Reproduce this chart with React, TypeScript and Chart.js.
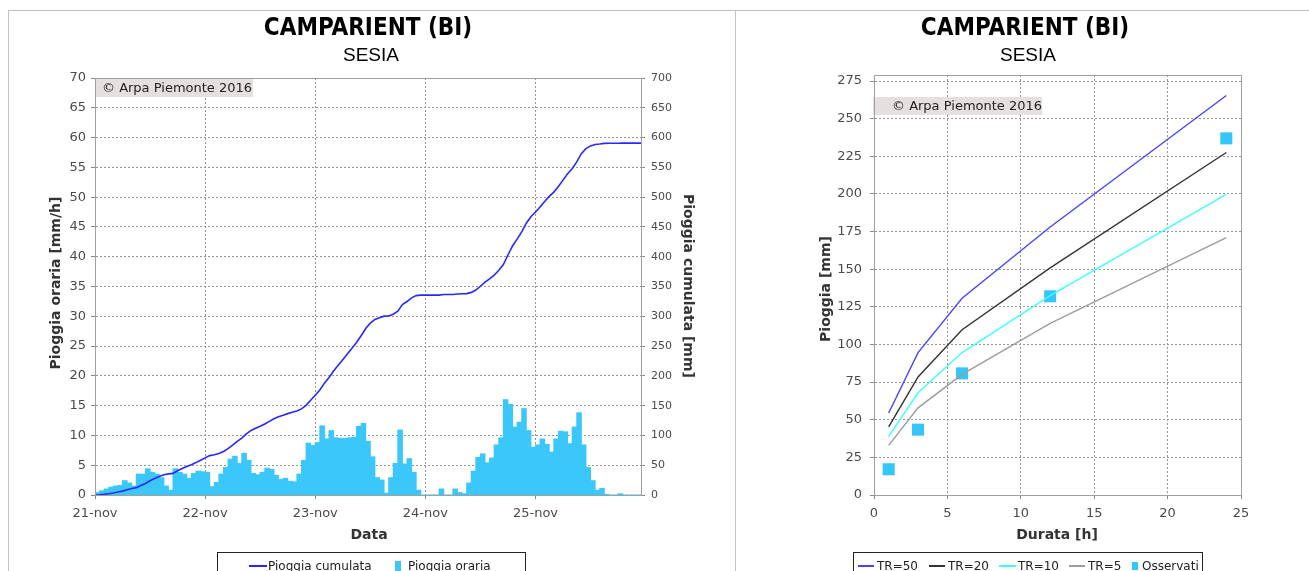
import React, { useEffect, useRef } from "react";
import { Chart, registerables } from "chart.js";

Chart.register(...registerables);

// ---------------- DATA ----------------
const dayLabels = ["21-nov", "22-nov", "23-nov", "24-nov", "25-nov"];
const dayTickHours = [0, 24, 48, 72, 96];

// hourly rain [mm/h], one value per hour, 00h..23h of each day
const rain21 = [0.4, 0.7, 1.0, 1.3, 1.5, 1.6, 2.4, 2.0, 1.5, 3.5, 3.5, 4.4, 3.8, 3.5, 2.9, 1.5, 0.8, 4.4, 3.8, 3.5, 2.8, 3.6, 4.0, 3.9];
const rain22 = [3.8, 1.4, 2.1, 3.5, 4.6, 6.0, 6.5, 5.3, 7.0, 5.8, 3.6, 3.4, 3.8, 4.5, 4.3, 3.3, 2.6, 2.8, 2.3, 2.2, 3.5, 5.8, 8.7, 8.3];
const rain23 = [8.8, 11.6, 9.4, 10.8, 9.6, 9.5, 9.5, 9.6, 9.7, 11.5, 12.0, 9.0, 6.4, 2.9, 2.5, 0.3, 2.9, 5.3, 10.9, 5.2, 6.1, 3.8, 0.8, 0];
const rain24 = [0, 0, 0, 1.0, 0, 0, 1.0, 0.4, 0.2, 2.0, 4.0, 6.3, 6.9, 5.4, 6.2, 8.4, 9.6, 16.0, 15.2, 11.4, 12.2, 14.5, 10.8, 8.0];
const rain25 = [8.4, 9.4, 8.5, 7.2, 9.4, 10.7, 10.6, 8.6, 11.4, 13.8, 8.4, 4.6, 2.4, 0.8, 1.1, 0.1, 0, 0, 0.2, 0, 0, 0, 0, 0];
const hourlyRain = [...rain21, ...rain22, ...rain23, ...rain24, ...rain25];

// depth-duration curves [mm] for return periods, durations [h]
const durations = [1, 3, 6, 12, 24];
const tr50 = [54.5, 94.6, 130.7, 178.0, 265.4];
const tr20 = [45.2, 78.4, 109.8, 150.9, 227.5];
const tr10 = [39.0, 67.9, 94.6, 132.5, 199.7];
const tr5 = [33.0, 57.9, 80.1, 114.0, 171.0];
const observed = [17.1, 43.4, 80.8, 132.0, 236.9];

const NOTE = "\u00A9 Arpa Piemonte 2016";

// ---------------- STYLE ----------------
const FONT = '"DejaVu Sans", sans-serif';
const GRID = "#959595";
const AXIS = "#8a8a8a";
const TICK_TEXT = "#4a4a4a";

function notePlugin(dx: number, dy: number, w: number, h: number, tx: number) {
  return {
    id: "noteAndFrame",
    beforeDatasetsDraw(chart: any) {
      const { ctx, chartArea: a } = chart;
      ctx.save();
      ctx.fillStyle = "#e5dfdf";
      ctx.fillRect(a.left + dx, a.top + dy, w, h);
      ctx.fillStyle = "#222";
      ctx.font = `13px ${FONT}`;
      ctx.textBaseline = "middle";
      ctx.textAlign = "left";
      ctx.fillText(NOTE, a.left + tx, a.top + dy + h / 2 + 1);
      ctx.restore();
    },
    afterDraw(chart: any) {
      const { ctx, chartArea: a } = chart;
      ctx.save();
      ctx.setLineDash([]);
      ctx.strokeStyle = "#a0a0a0";
      ctx.lineWidth = 1;
      ctx.strokeRect(Math.round(a.left) + 0.5, Math.round(a.top) + 0.5, Math.round(a.right - a.left), Math.round(a.bottom - a.top));
      ctx.restore();
    },
  };
}

function leftConfig(): any {
  const bars = hourlyRain.map((v, h) => ({ x: h + 0.5, y: v }));
  const cum: { x: number; y: number }[] = [{ x: 0, y: 0 }];
  let total = 0;
  hourlyRain.forEach((v, h) => {
    total += v;
    cum.push({ x: h + 1, y: total });
  });
  return {
    type: "bar",
    data: {
      datasets: [
        {
          type: "line",
          label: "Pioggia cumulata",
          data: cum,
          xAxisID: "x",
          yAxisID: "y2",
          borderColor: "#2727ff",
          borderWidth: 1.6,
          pointRadius: 0,
          tension: 0,
          fill: false,
          order: 0,
        },
        {
          type: "bar",
          label: "Pioggia oraria",
          data: bars,
          xAxisID: "x",
          yAxisID: "y",
          backgroundColor: "#3cc7fb",
          borderWidth: 0,
          inflateAmount: 0.5,
          barPercentage: 1,
          categoryPercentage: 1,
          order: 1,
        },
      ],
    },
    options: {
      animation: false,
      responsive: false,
      events: [],
      layout: { padding: { left: 0, right: 54, top: 68, bottom: 46 } },
      plugins: { legend: { display: false }, tooltip: { enabled: false }, title: { display: false } },
      scales: {
        x: {
          type: "linear",
          position: "bottom",
          min: 0,
          max: 119,
          offset: false,
          grid: { offset: false, color: GRID, tickLength: 4, tickColor: AXIS },
          border: { color: AXIS, dash: [2, 2] },
          ticks: {
            font: { family: FONT, size: 13 },
            color: TICK_TEXT,
            padding: 7,
            maxRotation: 0,
            autoSkip: false,
            callback: (v: number) => {
              const i = dayTickHours.indexOf(v);
              return i >= 0 ? dayLabels[i] : "";
            },
          },
          afterBuildTicks: (s: any) => {
            s.ticks = dayTickHours.map((v) => ({ value: v }));
          },
          afterFit: (s: any) => {
            s.height = 30;
          },
        },
        y: {
          type: "linear",
          position: "left",
          min: 0,
          max: 70,
          grid: { color: GRID, tickLength: 4, tickColor: AXIS },
          border: { color: AXIS, dash: [2, 2] },
          ticks: { stepSize: 5, font: { family: FONT, size: 13 }, color: TICK_TEXT, padding: 5 },
          afterFit: (s: any) => {
            s.width = 87;
          },
        },
        y2: {
          type: "linear",
          position: "right",
          min: 0,
          max: 700,
          grid: { drawOnChartArea: false, color: GRID, tickLength: 4, tickColor: AXIS },
          border: { color: AXIS },
          ticks: { stepSize: 50, font: { family: FONT, size: 11 }, color: TICK_TEXT, padding: 6 },
          afterFit: (s: any) => {
            s.width = 40;
          },
        },
      },
    },
    plugins: [notePlugin(1, 0, 157, 19, 7)],
  };
}

function rightConfig(): any {
  const pts = (vals: number[]) => vals.map((v, i) => ({ x: durations[i], y: v }));
  const lineDs = (label: string, vals: number[], color: string) => ({
    label,
    data: pts(vals),
    borderColor: color,
    backgroundColor: color,
    borderWidth: 1.4,
    pointRadius: 0,
    tension: 0,
    fill: false,
  });
  return {
    type: "line",
    data: {
      datasets: [
        lineDs("TR=50", tr50, "#4545ff"),
        lineDs("TR=20", tr20, "#333333"),
        lineDs("TR=10", tr10, "#3cffff"),
        lineDs("TR=5", tr5, "#9c9c9c"),
        {
          label: "Osservati",
          data: pts(observed),
          showLine: false,
          pointStyle: "rect",
          pointRadius: 8.5,
          pointBackgroundColor: "#35c5f8",
          pointBorderWidth: 0,
          borderColor: "#35c5f8",
          backgroundColor: "#35c5f8",
        },
      ],
    },
    options: {
      animation: false,
      responsive: false,
      events: [],
      layout: { padding: { left: 0, right: 68, top: 65, bottom: 46 } },
      plugins: { legend: { display: false }, tooltip: { enabled: false }, title: { display: false } },
      scales: {
        x: {
          type: "linear",
          min: 0,
          max: 25,
          grid: { color: GRID, tickLength: 4, tickColor: AXIS },
          border: { color: AXIS, dash: [2, 2] },
          ticks: { stepSize: 5, font: { family: FONT, size: 13 }, color: TICK_TEXT, padding: 7, maxRotation: 0 },
          afterFit: (s: any) => {
            s.height = 30;
          },
        },
        y: {
          type: "linear",
          min: 0,
          max: 279,
          grid: { color: GRID, tickLength: 4, tickColor: AXIS },
          border: { color: AXIS, dash: [2, 2] },
          ticks: { stepSize: 25, includeBounds: false, font: { family: FONT, size: 13 }, color: TICK_TEXT, padding: 8 },
          afterFit: (s: any) => {
            s.width = 139;
          },
        },
      },
    },
    plugins: [notePlugin(-1, 22, 169, 18, 18)],
  };
}

// ---------------- UI helpers ----------------
function Label(props: { cx: number; cy: number; text: string; style: any; rotate?: number; w?: number; h?: number }) {
  const w = props.w ?? 400;
  const h = props.h ?? 24;
  return (
    <div
      style={{
        position: "absolute",
        left: props.cx - w / 2,
        top: props.cy - h / 2,
        width: w,
        height: h,
        lineHeight: h + "px",
        textAlign: "center",
        whiteSpace: "nowrap",
        transform: props.rotate ? `rotate(${props.rotate}deg)` : undefined,
        ...props.style,
      }}
    >
      {props.text}
    </div>
  );
}

const titleStyle = {
  fontFamily: '"DejaVu Sans Condensed", "DejaVu Sans", sans-serif',
  fontStretch: "condensed",
  fontWeight: "bold",
  fontSize: 24,
  color: "#000",
};
const subStyle = { fontFamily: '"Liberation Sans", Arial, sans-serif', fontSize: 19, color: "#000" };
const axisTitleStyle = { fontFamily: FONT, fontWeight: "bold", fontSize: 14, color: "#333" };
const legendText = { position: "absolute" as const, fontFamily: FONT, fontSize: 12, lineHeight: "14px", color: "#222", whiteSpace: "nowrap" as const };

function LegendLine(props: { x: number; w: number; color: string }) {
  return <div style={{ position: "absolute", left: props.x, top: 565, width: props.w, height: 2, background: props.color }} />;
}
function LegendSquare(props: { x: number; w: number; h: number; color: string }) {
  return <div style={{ position: "absolute", left: props.x, top: 566 - props.h / 2, width: props.w, height: props.h, background: props.color }} />;
}
function LegendText(props: { x: number; text: string }) {
  return <div style={{ ...legendText, left: props.x, top: 559 }}>{props.text}</div>;
}

export default function App() {
  const leftRef = useRef<HTMLCanvasElement>(null);
  const rightRef = useRef<HTMLCanvasElement>(null);

  useEffect(() => {
    const c1 = new Chart(leftRef.current as HTMLCanvasElement, leftConfig());
    const c2 = new Chart(rightRef.current as HTMLCanvasElement, rightConfig());
    return () => {
      c1.destroy();
      c2.destroy();
    };
  }, []);

  return (
    <div style={{ position: "absolute", left: 0, top: 0, width: 1309, height: 571, overflow: "hidden", background: "#fff" }}>
      {/* panel frames */}
      <div style={{ position: "absolute", left: 8, top: 10, width: 1301, height: 561, borderTop: "1px solid #c4c4c4", borderLeft: "1px solid #c4c4c4" }} />
      <div style={{ position: "absolute", left: 735, top: 10, width: 1, height: 561, background: "#c4c4c4" }} />

      <canvas ref={leftRef} width={727} height={561} style={{ position: "absolute", left: 8, top: 10, width: 727, height: 561 }} />
      <canvas ref={rightRef} width={574} height={561} style={{ position: "absolute", left: 735, top: 10, width: 574, height: 561 }} />

      {/* titles */}
      <Label cx={368} cy={27} text="CAMPARIENT (BI)" style={titleStyle} />
      <Label cx={371} cy={55} text="SESIA" style={subStyle} />
      <Label cx={1025} cy={27} text="CAMPARIENT (BI)" style={titleStyle} />
      <Label cx={1028} cy={55} text="SESIA" style={subStyle} />

      {/* axis titles */}
      <Label cx={55} cy={283} text="Pioggia oraria [mm/h]" style={axisTitleStyle} rotate={-90} w={260} h={20} />
      <Label cx={689} cy={286} text="Pioggia cumulata [mm]" style={axisTitleStyle} rotate={90} w={260} h={20} />
      <Label cx={369} cy={534} text="Data" style={axisTitleStyle} w={200} h={20} />
      <Label cx={825} cy={289} text="Pioggia [mm]" style={axisTitleStyle} rotate={-90} w={200} h={20} />
      <Label cx={1057} cy={534} text="Durata [h]" style={axisTitleStyle} w={200} h={20} />

      {/* left legend */}
      <div style={{ position: "absolute", left: 217, top: 552, width: 309, height: 40, border: "1px solid #222", boxSizing: "border-box" }} />
      <LegendLine x={249} w={18} color="#2727ff" />
      <LegendText x={268} text="Pioggia cumulata" />
      <LegendSquare x={395} w={6} h={10} color="#3cc7fb" />
      <LegendText x={408} text="Pioggia oraria" />

      {/* right legend */}
      <div style={{ position: "absolute", left: 853, top: 552, width: 350, height: 40, border: "1px solid #222", boxSizing: "border-box" }} />
      <LegendLine x={858} w={16} color="#4545ff" />
      <LegendText x={877} text="TR=50" />
      <LegendLine x={929} w={16} color="#333333" />
      <LegendText x={948} text="TR=20" />
      <LegendLine x={999} w={17} color="#3cffff" />
      <LegendText x={1018} text="TR=10" />
      <LegendLine x={1069} w={16} color="#9c9c9c" />
      <LegendText x={1088} text="TR=5" />
      <LegendSquare x={1132} w={6} h={8} color="#35c5f8" />
      <LegendText x={1142} text="Osservati" />
    </div>
  );
}
